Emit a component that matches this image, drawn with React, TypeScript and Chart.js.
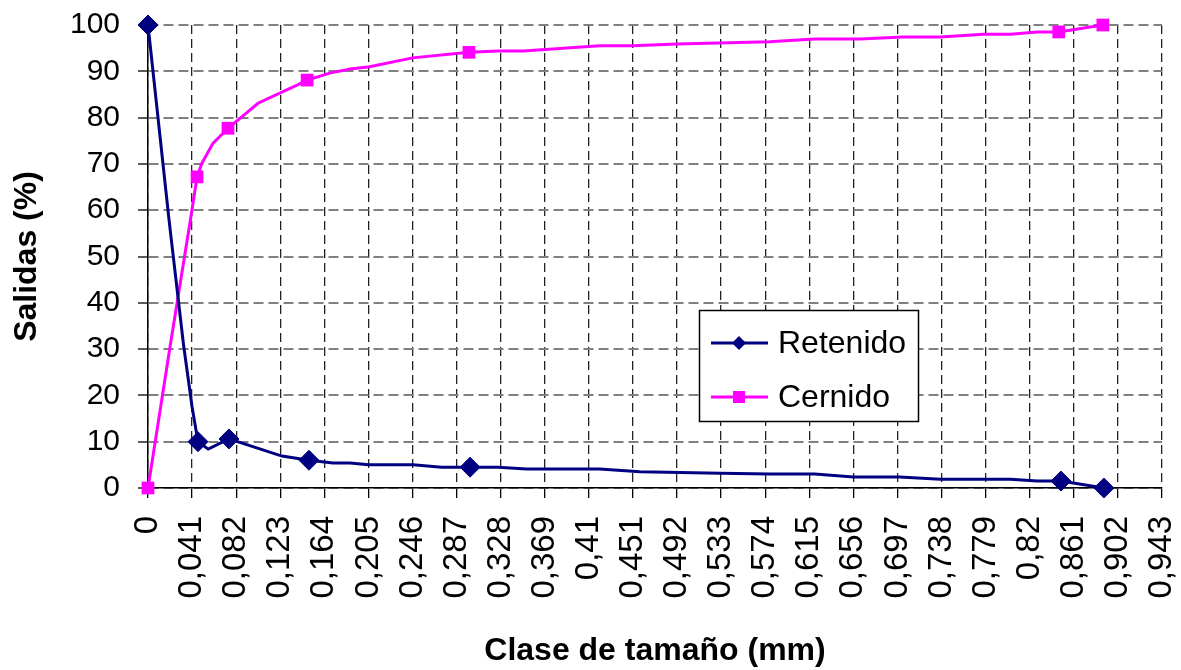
import React, { useEffect, useRef } from "react";
import { Chart, registerables } from "chart.js";

Chart.register(...registerables);

// Axis tick values (mm) and their labels
const xTicks = [0, 0.041, 0.082, 0.123, 0.164, 0.205, 0.246, 0.287, 0.328, 0.369, 0.41, 0.451, 0.492, 0.533, 0.574, 0.615, 0.656, 0.697, 0.738, 0.779, 0.82, 0.861, 0.902, 0.943];
const yTicks = [0, 10, 20, 30, 40, 50, 60, 70, 80, 90, 100];

const seriesNames = ["Retenido", "Cernido"];

// Retenido: curve vertices and measured (marked) points
const retenidoCurveX = [0, 0.0195, 0.033, 0.041, 0.0465, 0.056, 0.0753, 0.1246, 0.1497, 0.172, 0.188, 0.205, 0.2465, 0.273, 0.2995, 0.3255, 0.352, 0.42, 0.4575, 0.532, 0.578, 0.62, 0.656, 0.699, 0.737, 0.802, 0.827, 0.849, 0.889];
const retenidoCurveY = [100, 58, 31, 17.5, 10, 8.4, 10.6, 6.9, 6.0, 5.4, 5.4, 5.0, 5.0, 4.5, 4.5, 4.5, 4.1, 4.1, 3.5, 3.2, 3.0, 3.0, 2.4, 2.4, 1.9, 1.9, 1.5, 1.5, 0];
const retenidoMarkX = [0, 0.0465, 0.0753, 0.1497, 0.2995, 0.849, 0.889];
const retenidoMarkY = [100, 10, 10.6, 6.0, 4.5, 1.5, 0];

// Cernido: curve vertices and measured (marked) points
const cernidoCurveX = [0, 0.0205, 0.0395, 0.0456, 0.05, 0.0605, 0.0744, 0.1023, 0.1386, 0.148, 0.169, 0.188, 0.206, 0.246, 0.2985, 0.3255, 0.349, 0.42, 0.451, 0.492, 0.578, 0.62, 0.662, 0.702, 0.737, 0.777, 0.802, 0.827, 0.847, 0.888];
const cernidoCurveY = [0, 30.5, 58, 67.2, 70.1, 74.5, 77.7, 83.1, 87.0, 88.1, 89.6, 90.5, 91.0, 92.9, 94.1, 94.4, 94.4, 95.5, 95.5, 95.9, 96.4, 97.0, 97.0, 97.4, 97.4, 98.0, 98.0, 98.5, 98.5, 100];
const cernidoMarkX = [0, 0.0456, 0.0744, 0.148, 0.2985, 0.847, 0.888];
const cernidoMarkY = [0, 67.2, 77.7, 88.1, 94.1, 98.5, 100];

const NAVY = "#000080";
const MAGENTA = "#FF00FF";
const FONT = '"Liberation Sans", Arial, sans-serif';

const zip = (xs: number[], ys: number[]) => xs.map((x, i) => ({ x, y: ys[i] }));

const fmt = (v: number) => String(Number(v.toFixed(3))).replace(".", ",");

const legendPlugin = {
  id: "boxLegend",
  afterDraw(chart: any) {
    const ctx = chart.ctx as CanvasRenderingContext2D;
    ctx.save();
    const bx = 699, by = 310, bw = 219, bh = 111;
    ctx.fillStyle = "#fff";
    ctx.fillRect(bx, by, bw, bh);
    ctx.strokeStyle = "#000";
    ctx.lineWidth = 1.5;
    ctx.strokeRect(bx + 0.5, by + 0.5, bw, bh);
    const rows = [
      { name: seriesNames[0], color: NAVY, cy: 343, base: 353, shape: "diamond" },
      { name: seriesNames[1], color: MAGENTA, cy: 397, base: 407, shape: "square" },
    ];
    rows.forEach((r) => {
      ctx.strokeStyle = r.color;
      ctx.lineWidth = 3;
      ctx.beginPath();
      ctx.moveTo(711, r.cy);
      ctx.lineTo(768, r.cy);
      ctx.stroke();
      ctx.fillStyle = r.color;
      if (r.shape === "diamond") {
        ctx.beginPath();
        ctx.moveTo(739, r.cy - 7);
        ctx.lineTo(746, r.cy);
        ctx.lineTo(739, r.cy + 7);
        ctx.lineTo(732, r.cy);
        ctx.closePath();
        ctx.fill();
      } else {
        ctx.fillRect(733, r.cy - 6, 12, 12);
      }
      ctx.fillStyle = "#000";
      ctx.font = `32px ${FONT}`;
      ctx.textBaseline = "alphabetic";
      ctx.textAlign = "left";
      ctx.fillText(r.name, 778, r.base);
    });
    ctx.restore();
  },
};

export default function App() {
  const ref = useRef<HTMLCanvasElement | null>(null);

  useEffect(() => {
    if (!ref.current) return;
    const chart = new Chart(ref.current, {
      type: "line",
      data: {
        datasets: [
          {
            label: seriesNames[0],
            data: zip(retenidoCurveX, retenidoCurveY),
            borderColor: NAVY,
            borderWidth: 3,
            pointRadius: 0,
            tension: 0,
            fill: false,
            clip: false,
          } as any,
          {
            label: seriesNames[0] + " marcas",
            data: zip(retenidoMarkX, retenidoMarkY),
            showLine: false,
            pointStyle: "rectRot",
            pointRadius: 10,
            pointBackgroundColor: NAVY,
            pointBorderColor: NAVY,
            pointBorderWidth: 1,
            clip: false,
          },
          {
            label: seriesNames[1],
            data: zip(cernidoCurveX, cernidoCurveY),
            borderColor: MAGENTA,
            borderWidth: 3,
            pointRadius: 0,
            tension: 0,
            fill: false,
            clip: false,
          },
          {
            label: seriesNames[1] + " marcas",
            data: zip(cernidoMarkX, cernidoMarkY),
            showLine: false,
            pointStyle: "rect",
            pointRadius: 9,
            pointBackgroundColor: MAGENTA,
            pointBorderColor: MAGENTA,
            pointBorderWidth: 0,
            clip: false,
          },
        ],
      },
      options: {
        responsive: false,
        animation: false,
        devicePixelRatio: 1,
        layout: { padding: { top: 25, right: 19, left: 0, bottom: 0 } },
        plugins: {
          legend: { display: false },
          tooltip: { enabled: false },
        },
        scales: {
          x: {
            type: "linear",
            min: 0,
            max: 0.943,
            afterBuildTicks: (s: any) => {
              s.ticks = xTicks.map((v) => ({ value: v }));
            },
            afterFit: (s: any) => {
              s.height = 182;
              s.paddingLeft = 0;
              s.paddingRight = 0;
            },
            ticks: {
              autoSkip: false,
              minRotation: 90,
              maxRotation: 90,
              padding: 18,
              color: "#000",
              font: { family: FONT, size: 33 },
              callback: (v: any) => fmt(Number(v)),
            },
            grid: {
              color: "#222",
              lineWidth: 1.3,
              tickLength: 10,
              tickColor: "#000",
              tickWidth: 1.3,
            },
            border: { display: true, color: "#000", width: 1.5, dash: [9, 5] },
            title: {
              display: true,
              text: "Clase de tamaño (mm)",
              color: "#000",
              font: { family: FONT, size: 32, weight: "bold" },
              padding: { top: 0, bottom: 0 },
            },
          },
          y: {
            type: "linear",
            min: 0,
            max: 100,
            afterBuildTicks: (s: any) => {
              s.ticks = yTicks.map((v) => ({ value: v }));
            },
            afterFit: (s: any) => {
              s.width = 148;
              s.paddingTop = 0;
              s.paddingBottom = 0;
            },
            ticks: {
              padding: 18,
              color: "#000",
              font: { family: FONT, size: 30 },
            },
            grid: {
              color: "#808080",
              lineWidth: 2,
              tickLength: 10,
              tickColor: "#000",
              tickWidth: 1.3,
            },
            border: { display: true, color: "#000", width: 1.5, dash: [10, 5] },
            title: {
              display: true,
              text: "Salidas (%)",
              color: "#000",
              font: { family: FONT, size: 32, weight: "bold" },
              padding: { top: 8, bottom: 0 },
            },
          },
        },
      } as any,
      plugins: [legendPlugin],
    });
    return () => chart.destroy();
  }, []);

  return (
    <div style={{ position: "absolute", left: 0, top: 0, width: 1181, height: 670, background: "#fff" }}>
      <canvas ref={ref} width={1181} height={670} style={{ display: "block" }} />
    </div>
  );
}
